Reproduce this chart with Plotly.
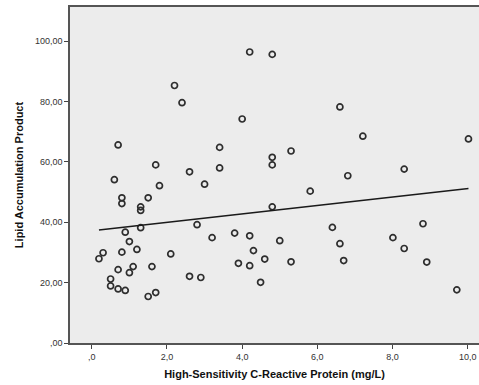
import numpy as np
import plotly.graph_objects as go

hs_crp = [2.20, 2.40, 0.70, 1.70, 4.20, 4.80, 6.60, 4.00, 3.40, 5.30, 4.80, 4.80, 3.40,
          7.21, 10.02, 8.31, 2.60, 0.60, 1.80, 3.00, 0.80, 0.80, 1.50, 1.30, 1.30, 2.80,
          1.30, 0.89, 1.00, 3.20, 0.30, 0.19, 0.80, 1.20, 2.10, 0.70, 1.10, 1.00, 1.60,
          2.60, 2.90, 0.50, 0.50, 0.70, 0.89, 1.70, 1.50, 5.81, 4.80, 6.40, 3.80, 4.20,
          5.00, 4.30, 4.60, 5.30, 3.90, 4.20, 4.49, 6.60, 6.81, 8.81, 8.01, 8.31, 6.70,
          8.91, 9.71]
lap = [85.3, 79.6, 65.6, 59.0, 96.4, 95.6, 78.2, 74.2, 64.8, 63.6, 61.5, 59.0, 58.0,
       68.5, 67.6, 57.6, 56.7, 54.1, 52.1, 52.6, 48.1, 46.2, 48.1, 45.1, 43.9, 39.2,
       38.2, 36.7, 33.6, 34.9, 29.9, 27.9, 30.1, 31.0, 29.5, 24.3, 25.3, 23.3, 25.3,
       22.1, 21.7, 21.2, 18.9, 17.9, 17.4, 16.7, 15.4, 50.3, 45.1, 38.3, 36.4, 35.5,
       33.9, 30.6, 27.8, 26.9, 26.4, 25.6, 20.1, 32.9, 55.4, 39.5, 34.9, 31.3, 27.3,
       26.8, 17.6]

x_ticks = [0, 2, 4, 6, 8, 10]
x_tick_labels = [",0", "2,0", "4,0", "6,0", "8,0", "10,0"]
y_ticks = [0, 20, 40, 60, 80, 100]
y_tick_labels = [",00", "20,00", "40,00", "60,00", "80,00", "100,00"]

x = np.array(hs_crp)
y = np.array(lap)
slope, intercept = np.polyfit(x, y, 1)
fx = np.array([x.min(), x.max()])
fy = intercept + slope * fx

fig = go.Figure()
fig.add_trace(go.Scatter(
    x=hs_crp, y=lap, mode="markers",
    marker=dict(symbol="circle-open", size=6, color="#2e2e2e", line=dict(width=1.7)),
    showlegend=False, hoverinfo="x+y"))
fig.add_trace(go.Scatter(
    x=fx, y=fy, mode="lines", line=dict(color="#1a1a1a", width=1.5),
    showlegend=False))

fig.update_layout(
    width=479, height=385,
    margin=dict(l=70, r=0, t=7, b=42, autoexpand=False),
    paper_bgcolor="white", plot_bgcolor="#ECECEC",
    font=dict(family="Liberation Sans, Arial, sans-serif", color="#333333"),
    xaxis=dict(
        range=[-0.58, 10.3], tickvals=x_ticks, ticktext=x_tick_labels,
        showgrid=False, zeroline=False, showline=True, mirror=True,
        linecolor="#555555", linewidth=1.5, ticks="outside", ticklen=4,
        tickcolor="#444444", tickfont=dict(size=9, color="#333333"),
        automargin=False,
        title=dict(text="<b>High-Sensitivity C-Reactive Protein (mg/L)</b>",
                   font=dict(size=11, color="#111111"), standoff=10)),
    yaxis=dict(
        range=[0, 111.3], tickvals=y_ticks, ticktext=y_tick_labels,
        showgrid=False, zeroline=False, showline=True,
        linecolor="#555555", linewidth=1.5, ticks="outside", ticklen=4,
        tickcolor="#444444", tickfont=dict(size=9, color="#333333"),
        automargin=False,
        title=dict(text="<b>Lipid Accumulation Product</b>",
                   font=dict(size=11, color="#111111"), standoff=9)),
)

fig.write_html("out.html", config={"displayModeBar": False},
               post_script="document.body.style.margin='0';")
